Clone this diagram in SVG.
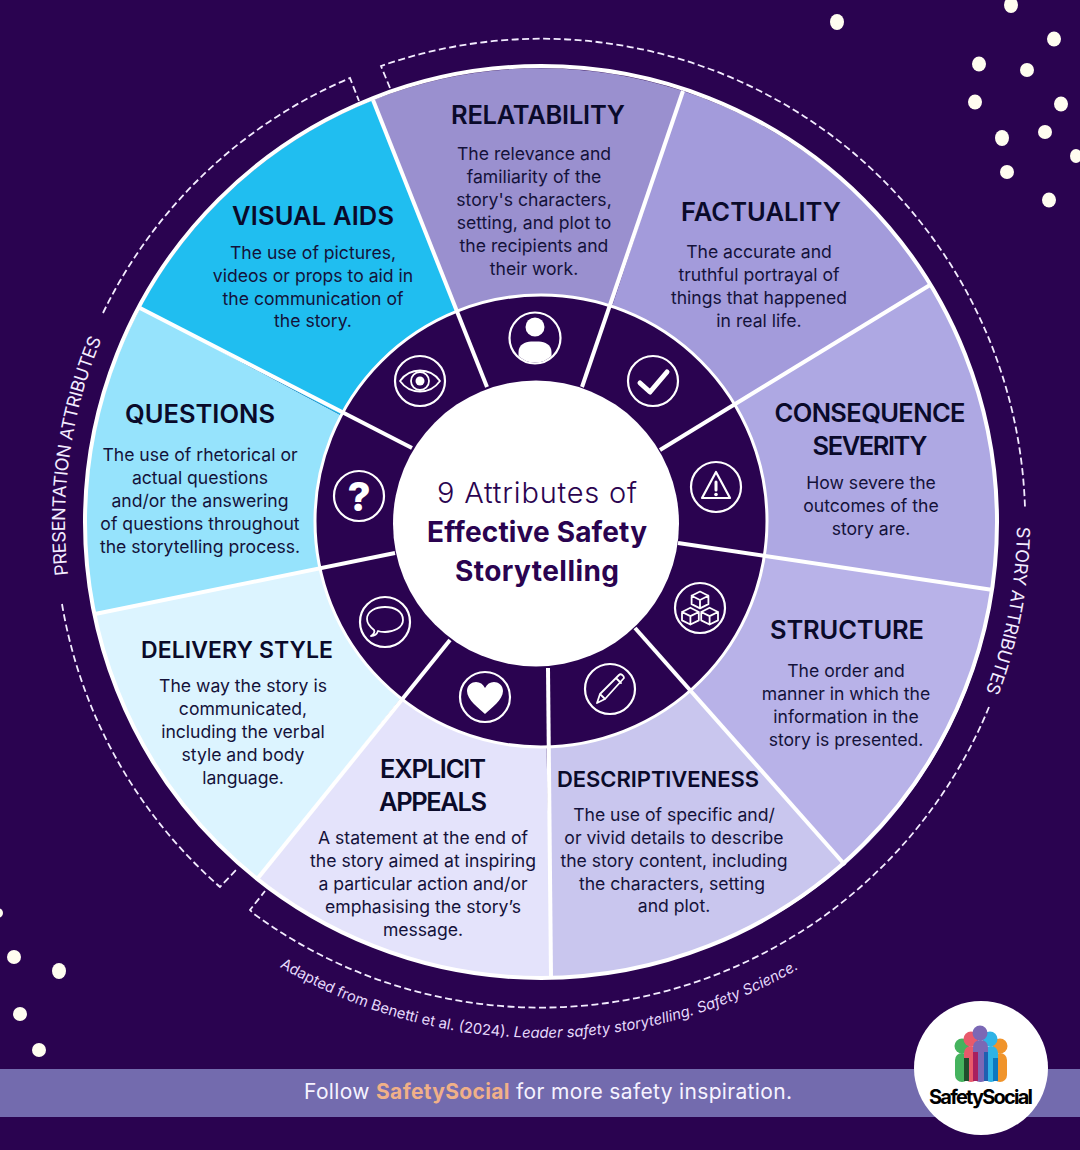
<svg xmlns="http://www.w3.org/2000/svg" xmlns:xlink="http://www.w3.org/1999/xlink" width="1080" height="1150" viewBox="0 0 1080 1150">
<style>
  text { font-family: "Inter", "Open Sans", "Liberation Sans", sans-serif; }
  .h { font-size: 25.5px; font-weight: 600; fill: #0a0a2a; text-anchor: middle; }
  .b { font-size: 17.6px; font-weight: 400; fill: #14123a; text-anchor: middle; }
  .spoke { stroke: #fff; stroke-width: 4; fill: none; }
  .dash { stroke: #f3ecff; stroke-width: 1.8; fill: none; stroke-dasharray: 7 3.5; }
  .arc { font-size: 18px; letter-spacing: -0.4px; fill: #f3ecff; }
  .ring { fill: none; stroke: #fff; stroke-width: 2.2; }
  .ln { fill: none; stroke: #fff; stroke-width: 2.2; stroke-linejoin: round; stroke-linecap: round; }
  .dot { fill: #fffdf0; }
</style>
<defs>
  <!-- baselines for the curved labels, all centred on the wheel -->
  <path id="pRight" d="M1017,522 A476,476 0 0 1 541,998"/>
  <path id="pLeft" d="M93.7,684.8 A476,476 0 0 1 541,46"/>
  <path id="pCite" d="M25,522 A516,516 0 0 0 1057,522"/>
  <clipPath id="personClip"><circle r="24.5"/></clipPath>
</defs>
<rect width="1080" height="1150" fill="#2a0350"/>

<g id="dots">
  <ellipse class="dot" cx="837" cy="22" rx="7" ry="8"/><ellipse class="dot" cx="1011" cy="5" rx="7" ry="8"/>
  <ellipse class="dot" cx="1054" cy="39" rx="7" ry="7.5"/><ellipse class="dot" cx="979" cy="64" rx="7" ry="7.5"/>
  <ellipse class="dot" cx="1027" cy="70" rx="7" ry="7"/><ellipse class="dot" cx="975" cy="102" rx="7" ry="7.5"/>
  <ellipse class="dot" cx="1061" cy="104" rx="7" ry="7.5"/><ellipse class="dot" cx="1002" cy="138" rx="7" ry="8"/>
  <ellipse class="dot" cx="1045" cy="132" rx="7" ry="7"/><ellipse class="dot" cx="1076" cy="156" rx="6" ry="7"/>
  <ellipse class="dot" cx="1007" cy="172" rx="7" ry="7"/><ellipse class="dot" cx="1049" cy="200" rx="7" ry="7.5"/>
  <ellipse class="dot" cx="-2" cy="913" rx="5" ry="5"/><ellipse class="dot" cx="14" cy="957" rx="7" ry="7"/>
  <ellipse class="dot" cx="59" cy="971" rx="7" ry="8"/><ellipse class="dot" cx="20" cy="1014" rx="7" ry="7"/>
  <ellipse class="dot" cx="39" cy="1050" rx="7" ry="7"/>
</g>

<g id="sectors">
  <path id="s-rel" fill="#9a90cf" d="M541,522 L373,100 A456,456 0 0 1 683,91 Z"/>
  <path id="s-fac" fill="#a39bdb" d="M541,522 L683,91 A456,456 0 0 1 930,285 Z"/>
  <path id="s-con" fill="#aea8e3" d="M541,522 L930,285 A456,456 0 0 1 993,590 Z"/>
  <path id="s-str" fill="#b8b2e8" d="M541,522 L993,590 A456,456 0 0 1 845,865 Z"/>
  <path id="s-des" fill="#c9c6ee" d="M541,522 L845,865 A456,456 0 0 1 552,977 Z"/>
  <path id="s-exp" fill="#e4e3fb" d="M541,522 L552,977 A456,456 0 0 1 258,878 Z"/>
  <path id="s-del" fill="#dcf4ff" d="M541,522 L258,878 A456,456 0 0 1 95,614 Z"/>
  <path id="s-que" fill="#96e3fc" d="M541,522 L95,614 A456,456 0 0 1 140,308 Z"/>
  <path id="s-vis" fill="#20bef0" d="M541,522 L140,308 A456,456 0 0 1 373,100 Z"/>
  <circle cx="541" cy="522" r="456" fill="none" stroke="#fff" stroke-width="4"/>
  <circle cx="541" cy="521" r="226" fill="#2a0350" stroke="#fff" stroke-width="3"/>
</g>

<g id="connectors">
  <path class="spoke" d="M373,100 L487,387"/>
  <path class="spoke" d="M683,91 L582,387"/>
  <path class="spoke" d="M930,285 L660,450"/>
  <path class="spoke" d="M993,590 L678,543"/>
  <path class="spoke" d="M845,865 L635,628"/>
  <path class="spoke" d="M551,977 L548,668"/>
  <path class="spoke" d="M258,878 L450,640"/>
  <path class="spoke" d="M95,614 L395,553"/>
  <path class="spoke" d="M140,308 L412,448"/>
  <path class="dash" d="M103,313 A484,484 0 0 1 350,78 L359,101"/>
  <path class="dash" d="M62,604 A484,484 0 0 0 220,887 L237,869"/>
  <path class="dash" d="M390,88 L381,66 A484,484 0 0 1 1025,508"/>
  <path class="dash" d="M989,707 A485,485 0 0 1 254,914 L250,910 L265,891"/>
</g>

<g id="center">
  <circle cx="536" cy="523.5" r="143" fill="#fff"/>
  <text x="537" y="503" style="font-size:29px;text-anchor:middle;fill:#2a0350;font-weight:300" textLength="200">9 Attributes of</text>
  <text x="537" y="542" style="font-size:28px;text-anchor:middle;fill:#2a0350;font-weight:700" textLength="220">Effective Safety</text>
  <text x="537" y="581" style="font-size:28px;text-anchor:middle;fill:#2a0350;font-weight:700" textLength="164">Storytelling</text>
</g>

<g id="node-relatability">
  <text class="h" x="538" y="124" textLength="174">RELATABILITY</text>
  <text class="b" x="534" y="160">The relevance and</text><text class="b" x="534" y="183">familiarity of the</text>
  <text class="b" x="534" y="206">story's characters,</text><text class="b" x="534" y="229">setting, and plot to</text>
  <text class="b" x="534" y="252">the recipients and</text><text class="b" x="534" y="275">their work.</text>
  <g transform="translate(535,338)">
    <circle class="ring" r="25.5"/>
    <circle r="9.5" cy="-11" fill="#fff"/>
    <path fill="#fff" clip-path="url(#personClip)" d="M-16.5,30 V14 C-16.5,7 -10,3.5 -4,3.5 H4 C10,3.5 16.5,7 16.5,14 V30 Z"/>
  </g>
</g>
<g id="node-factuality">
  <text class="h" x="761" y="221" textLength="160">FACTUALITY</text>
  <text class="b" x="759" y="258">The accurate and</text><text class="b" x="759" y="281">truthful portrayal of</text>
  <text class="b" x="759" y="304">things that happened</text><text class="b" x="759" y="327">in real life.</text>
  <g transform="translate(653,381)">
    <circle class="ring" r="25"/>
    <path class="ln" style="stroke-width:5" d="M-13,2 L-3,11 L14,-9"/>
  </g>
</g>
<g id="node-consequence">
  <text class="h" x="870" y="422" textLength="191">CONSEQUENCE</text><text class="h" x="870" y="455" textLength="115">SEVERITY</text>
  <text class="b" x="871" y="489">How severe the</text><text class="b" x="871" y="512">outcomes of the</text>
  <text class="b" x="871" y="535">story are.</text>
  <g transform="translate(716,487)">
    <circle class="ring" r="25"/>
    <path class="ln" d="M0,-15 L14,11 L-14,11 Z"/>
    <path d="M0,-5 V3" stroke="#fff" stroke-width="3" stroke-linecap="round"/>
    <circle cy="7.5" r="1.8" fill="#fff"/>
  </g>
</g>
<g id="node-structure">
  <text class="h" x="847" y="639" textLength="154">STRUCTURE</text>
  <text class="b" x="846" y="677">The order and</text><text class="b" x="846" y="700">manner in which the</text>
  <text class="b" x="846" y="723">information in the</text><text class="b" x="846" y="746">story is presented.</text>
  <g transform="translate(700,608)">
    <circle class="ring" r="25"/>
    <g transform="scale(1.2) translate(0,1.8)" class="ln" style="stroke-width:1.5">
      <path d="M0,-15.5 L7,-12 L7,-5 L0,-1.5 L-7,-5 L-7,-12 Z M-7,-12 L0,-8.5 L7,-12 M0,-8.5 V-1.5"/>
      <path d="M-8,-2 L-1,1.5 L-1,8.5 L-8,12 L-15,8.5 L-15,1.5 Z M-15,1.5 L-8,5 L-1,1.5 M-8,5 V12"/>
      <path d="M8,-2 L15,1.5 L15,8.5 L8,12 L1,8.5 L1,1.5 Z M1,1.5 L8,5 L15,1.5 M8,5 V12"/>
    </g>
  </g>
</g>
<g id="node-descriptiveness">
  <text class="h" x="658" y="787" style="font-size:22px" textLength="202">DESCRIPTIVENESS</text>
  <text class="b" x="674" y="821">The use of specific and/</text><text class="b" x="674" y="844">or vivid details to describe</text>
  <text class="b" x="674" y="867">the story content, including</text><text class="b" x="672" y="890">the characters, setting</text>
  <text class="b" x="674" y="912">and plot.</text>
  <g transform="translate(610,689)">
    <circle class="ring" r="25"/>
    <path class="ln" style="stroke-width:1.8" d="M-13,14 L-10,5 L9,-14 C11,-16 14,-13 14,-11 L-5,10 Z M-10,5 L-5,10 M6,-11 L11,-6"/>
  </g>
</g>
<g id="node-explicit">
  <text class="h" x="433" y="778" textLength="106">EXPLICIT</text><text class="h" x="433" y="811" textLength="108">APPEALS</text>
  <text class="b" x="423" y="844">A statement at the end of</text><text class="b" x="423" y="867">the story aimed at inspiring</text>
  <text class="b" x="423" y="890">a particular action and/or</text><text class="b" x="423" y="913">emphasising the story’s</text>
  <text class="b" x="423" y="936">message.</text>
  <g transform="translate(485,697)">
    <circle class="ring" r="25"/>
    <path fill="#fff" d="M0,17 C-6,11 -18,3 -18,-6 C-18,-12 -13,-15 -9,-15 C-5,-15 -2,-13 0,-9 C2,-13 5,-15 9,-15 C13,-15 18,-12 18,-6 C18,3 6,11 0,17 Z"/>
  </g>
</g>
<g id="node-delivery">
  <text class="h" x="237" y="658" style="font-size:23px" textLength="192">DELIVERY STYLE</text>
  <text class="b" x="243" y="692">The way the story is</text><text class="b" x="243" y="715">communicated,</text>
  <text class="b" x="243" y="738">including the verbal</text><text class="b" x="243" y="761">style and body</text>
  <text class="b" x="243" y="784">language.</text>
  <g transform="translate(385,622)">
    <circle class="ring" r="25"/>
    <path class="ln" style="stroke-width:1.8" d="M-14,14 C-11,12 -10,10 -11,8 C-16,4 -18,0 -18,-3 C-18,-11 -9,-15 0,-15 C9,-15 18,-11 18,-2 C18,6 8,10 0,10 C-3,10 -5,10 -7,9 C-8,12 -11,14 -14,14 Z"/>
  </g>
</g>
<g id="node-questions">
  <text class="h" x="200" y="423" textLength="150">QUESTIONS</text>
  <text class="b" x="200" y="461">The use of rhetorical or</text><text class="b" x="200" y="484">actual questions</text>
  <text class="b" x="200" y="507">and/or the answering</text><text class="b" x="200" y="530">of questions throughout</text>
  <text class="b" x="200" y="553">the storytelling process.</text>
  <g transform="translate(359,496)">
    <circle class="ring" r="25"/>
    <text y="14.5" style="font-size:40px;font-weight:800;fill:#fff;text-anchor:middle">?</text>
  </g>
</g>
<g id="node-visual">
  <text class="h" x="313" y="225" textLength="162">VISUAL AIDS</text>
  <text class="b" x="313" y="259">The use of pictures,</text><text class="b" x="313" y="282">videos or props to aid in</text>
  <text class="b" x="313" y="305">the communication of</text><text class="b" x="313" y="327">the story.</text>
  <g transform="translate(420,381)">
    <circle class="ring" r="25"/>
    <path class="ln" style="stroke-width:1.8" d="M-20,0 C-10,-14 10,-14 20,0 C10,14 -10,14 -20,0 Z"/>
    <circle r="9" class="ln" style="stroke-width:1.8"/>
    <circle r="4.5" fill="#fff"/>
  </g>
</g>

<g id="arc-labels">
  <text class="arc"><textPath href="#pRight" xlink:href="#pRight" startOffset="5">STORY ATTRIBUTES</textPath></text>
  <text class="arc"><textPath href="#pLeft" xlink:href="#pLeft" startOffset="113">PRESENTATION ATTRIBUTES</textPath></text>
  <text style="font-size:14.8px;fill:#e6dafc"><textPath href="#pCite" xlink:href="#pCite" startOffset="536">Adapted from Benetti et al. (2024). <tspan font-style="italic">Leader safety storytelling. Safety Science.</tspan></textPath></text>
</g>

<g id="footer">
  <rect y="1069" width="1080" height="48" fill="#736bae"/>
  <text x="548" y="1099" style="font-size:21px;fill:#f6f3ff;text-anchor:middle" textLength="488">Follow <tspan fill="#f0b088" font-weight="700">SafetySocial</tspan> for more safety inspiration.</text>
</g>

<g id="logo">
  <circle cx="981" cy="1068" r="67" fill="#fff"/>
  <!-- five figures, outermost drawn first, with darker strips where bodies overlap -->
  <circle cx="962" cy="1046" r="7.5" fill="#45b35e"/><rect x="955" y="1053" width="14" height="29" rx="7" fill="#45b35e"/>
  <circle cx="1000" cy="1046" r="7.5" fill="#f0942b"/><rect x="993" y="1053" width="14" height="29" rx="7" fill="#f0942b"/>
  <circle cx="971" cy="1039" r="7.5" fill="#e85a6b"/><rect x="964" y="1046" width="14" height="36" rx="7" fill="#e85a6b"/>
  <circle cx="990" cy="1039" r="7.5" fill="#2fb3e6"/><rect x="984" y="1046" width="14" height="36" rx="7" fill="#2fb3e6"/>
  <circle cx="980" cy="1033" r="7.5" fill="#7b68b5"/><rect x="973" y="1040" width="15" height="42" rx="7" fill="#7b68b5"/>
  <rect x="964" y="1058" width="5" height="23" fill="#1f4d2c"/>
  <rect x="973" y="1052" width="5" height="29" fill="#a81f5f"/>
  <rect x="984" y="1052" width="4" height="29" fill="#1f5fb0"/>
  <rect x="993" y="1058" width="5" height="23" fill="#0b77c0"/>
  <text x="981" y="1104" style="font-size:20px;font-weight:700;fill:#000;text-anchor:middle" textLength="104">SafetySocial</text>
</g>
</svg>
